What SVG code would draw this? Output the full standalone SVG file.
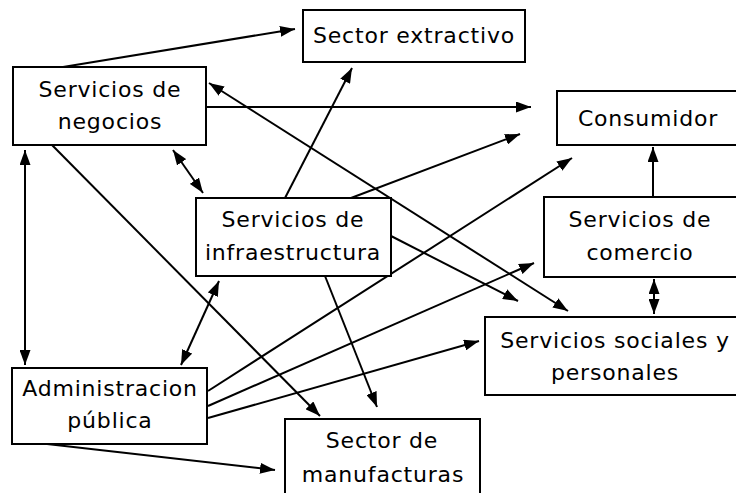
<svg xmlns="http://www.w3.org/2000/svg" width="736" height="493" viewBox="0 0 736 493">
<defs>
<style>
.box{fill:#fff;stroke:#000;stroke-width:2}
.t{font-family:"DejaVu Sans","Liberation Sans",sans-serif;font-size:22px;letter-spacing:0.8px;fill:#000;text-anchor:middle}
.c{stroke:#000;stroke-width:2;fill:none;marker-end:url(#ah)}
.d{stroke:#000;stroke-width:2;fill:none;marker-end:url(#ah);marker-start:url(#ah)}
</style>
<marker id="ah" markerUnits="userSpaceOnUse" markerWidth="15" markerHeight="11" viewBox="0 0 15 11" refX="15" refY="5.5" orient="auto-start-reverse">
<path d="M0,0 L15,5.5 L0,11 z" fill="#000"/>
</marker>
</defs>
<rect width="736" height="493" fill="#fff"/>
<g id="connectors">
<line class="c" x1="63" y1="67" x2="295" y2="29"/>
<line class="c" x1="206" y1="107" x2="531" y2="107"/>
<line class="c" x1="285" y1="198" x2="352" y2="68"/>
<line class="d" x1="173" y1="150" x2="203" y2="193"/>
<line class="d" x1="209" y1="83" x2="568" y2="311"/>
<line class="c" x1="351" y1="198" x2="520" y2="134"/>
<line class="c" x1="208" y1="391" x2="572" y2="158"/>
<line class="c" x1="208" y1="406" x2="534" y2="263"/>
<line class="c" x1="208" y1="418" x2="479" y2="341"/>
<line class="c" x1="391" y1="236" x2="518" y2="301"/>
<line class="c" x1="52" y1="145" x2="320" y2="416"/>
<line class="c" x1="325" y1="276" x2="377" y2="407"/>
<line class="d" x1="219" y1="281" x2="181" y2="365"/>
<line class="d" x1="25" y1="150" x2="25" y2="365"/>
<line class="c" x1="47" y1="444" x2="275" y2="470"/>
<line class="c" x1="653" y1="197" x2="653" y2="147"/>
<line class="d" x1="654" y1="279" x2="654" y2="314"/>
</g>
<g id="sector-extractivo">
<rect class="box" x="303" y="10" width="222" height="52"/>
<text class="t" x="414" y="43">Sector extractivo</text>
</g>
<g id="servicios-negocios">
<rect class="box" x="13" y="67" width="193" height="78"/>
<text class="t" x="110" y="97">Servicios de</text>
<text class="t" x="110" y="129">negocios</text>
</g>
<g id="consumidor">
<rect class="box" x="557" y="91" width="190" height="54"/>
<text class="t" x="648" y="126">Consumidor</text>
</g>
<g id="servicios-infraestructura">
<rect class="box" x="196" y="198" width="195" height="78"/>
<text class="t" x="293" y="227">Servicios de</text>
<text class="t" x="293" y="260">infraestructura</text>
</g>
<g id="servicios-comercio">
<rect class="box" x="544" y="197" width="203" height="80"/>
<text class="t" x="640" y="227">Servicios de</text>
<text class="t" x="640" y="260">comercio</text>
</g>
<g id="servicios-sociales">
<rect class="box" x="485" y="317" width="262" height="78"/>
<text class="t" x="615" y="348">Servicios sociales y</text>
<text class="t" x="615" y="380">personales</text>
</g>
<g id="administracion-publica">
<rect class="box" x="12" y="368" width="195" height="76"/>
<text class="t" x="110" y="396">Administracion</text>
<text class="t" x="110" y="428">pública</text>
</g>
<g id="sector-manufacturas">
<rect class="box" x="285" y="419" width="195" height="84"/>
<text class="t" x="382" y="448">Sector de</text>
<text class="t" x="383" y="482">manufacturas</text>
</g>
</svg>
